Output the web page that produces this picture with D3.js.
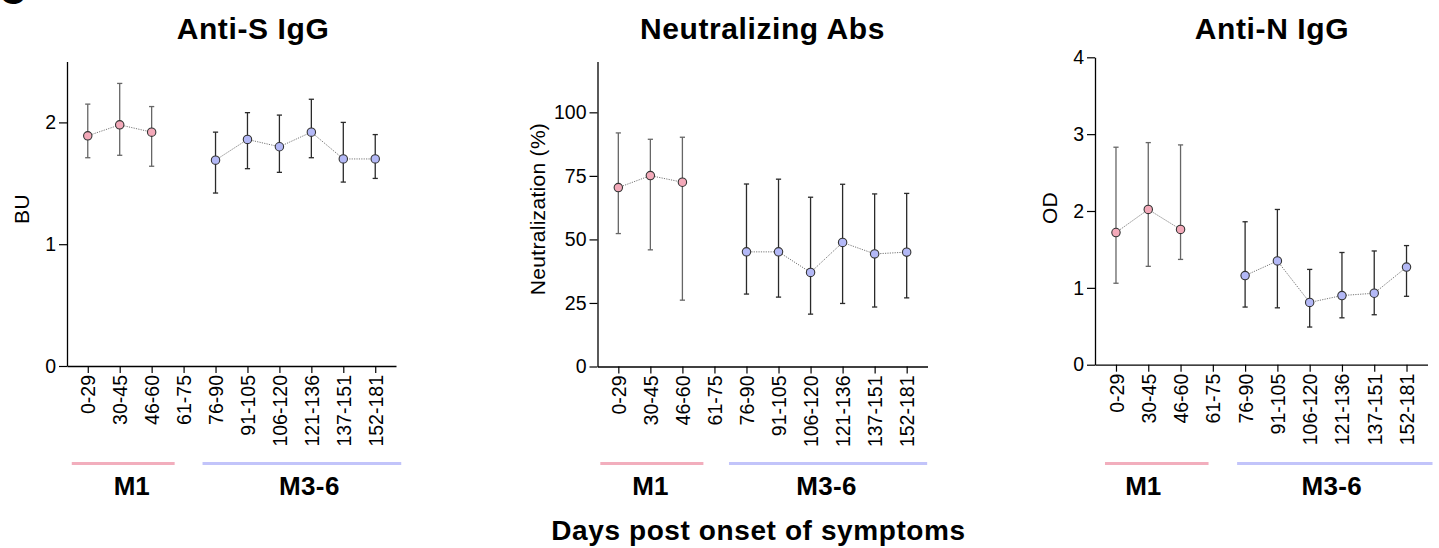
<!DOCTYPE html>
<html>
<head>
<meta charset="utf-8">
<script src="https://cdn.jsdelivr.net/npm/d3@7"></script>
<style>
  html, body { margin: 0; padding: 0; background: #fff; }
  svg { display: block; }
  text { font-family: "Liberation Sans", Arial, Helvetica, sans-serif; fill: #000; }
</style>
</head>
<body>
<svg id="chart" width="1439" height="548"></svg>
<script>
// ---------------- DATA ----------------
const categories = ["0-29","30-45","46-60","61-75","76-90","91-105","106-120","121-136","137-151","152-181"];
const groupNames = ["M1", "M3-6"];
const groupM1 = ["0-29","30-45","46-60"];
const groupM36 = ["76-90","91-105","106-120","121-136","137-151","152-181"];

const antiSMean = [1.89, 1.98, 1.92, null, 1.69, 1.86, 1.80, 1.92, 1.70, 1.70];
const antiSLow  = [1.71, 1.73, 1.64, null, 1.42, 1.62, 1.59, 1.71, 1.51, 1.54];
const antiSHigh = [2.15, 2.32, 2.13, null, 1.92, 2.08, 2.06, 2.19, 2.00, 1.90];
const antiSTicks = [0, 1, 2];

const neutMean = [70.4, 75.1, 72.5, null, 45.1, 45.1, 37.0, 48.8, 44.3, 45.0];
const neutLow  = [52.3, 45.9, 26.1, null, 28.5, 27.3, 20.6, 24.8, 23.4, 27.0];
const neutHigh = [91.9, 89.4, 90.2, null, 71.8, 73.7, 66.6, 71.7, 67.9, 68.1];
const neutTicks = [0, 25, 50, 75, 100];

const antiNMean = [1.72, 2.02, 1.76, null, 1.16, 1.35, 0.81, 0.90, 0.93, 1.27];
const antiNLow  = [1.06, 1.28, 1.37, null, 0.75, 0.74, 0.49, 0.61, 0.65, 0.89];
const antiNHigh = [2.83, 2.89, 2.86, null, 1.86, 2.02, 1.24, 1.46, 1.48, 1.55];
const antiNTicks = [0, 1, 2, 3, 4];

const panelTitles = ["Anti-S IgG", "Neutralizing Abs", "Anti-N IgG"];
const yLabels = ["BU", "Neutralization (%)", "OD"];
const xTitle = "Days post onset of symptoms";

// ---------------- STYLE / LAYOUT ----------------
const pinkFill = "#f3a9b9", blueFill = "#b3b8f6";
const pinkBar = "#f2aebd", blueBar = "#c2c4fa";
const FONT = "'Liberation Sans', Arial, Helvetica, sans-serif";

const panels = [
  { title: panelTitles[0], yLabel: yLabels[0], mean: antiSMean, low: antiSLow, high: antiSHigh, ticks: antiSTicks,
    domain: [0, 2.5], x0: 67, x1: 396, y0: 366, y1: 61.5, titleX: 253, yLabX: 21, yLabY: 209,
    m1: [-16, 23], m36: [-13, 26], labShift: [12, 14] },
  { title: panelTitles[1], yLabel: yLabels[1], mean: neutMean, low: neutLow, high: neutHigh, ticks: neutTicks,
    domain: [0, 120], x0: 597.5, x1: 927.5, y0: 366.5, y1: 61.5, titleX: 762.5, yLabX: 537, yLabY: 209,
    m1: [-18, 21], m36: [-17.5, 20.5], labShift: [0, 0] },
  { title: panelTitles[2], yLabel: yLabels[2], mean: antiNMean, low: antiNLow, high: antiNHigh, ticks: antiNTicks,
    domain: [0, 4], x0: 1095, x1: 1427.5, y0: 364.7, y1: 57.3, titleX: 1272, yLabX: 1049, yLabY: 208,
    m1: [-11, 28], m36: [-8, 26], labShift: [-5, 6] }
];

const svg = d3.select("#chart");

// partial panel letter at top-left (cut off in the source)
svg.append("text").attr("x", -1).attr("y", 4)
  .style("font-size", "37px").style("font-weight", "bold").text("C");

panels.forEach(p => {
  const g = svg.append("g");
  const x = d3.scalePoint().domain(categories).range([p.x0, p.x1]).padding(0.65);
  const y = d3.scaleLinear().domain(p.domain).range([p.y0, p.y1]);

  // title
  g.append("text").attr("x", p.titleX).attr("y", 38.5).attr("text-anchor", "middle")
    .style("font-size", "30px").style("font-weight", "bold").style("letter-spacing", "0.6px")
    .text(p.title);

  // y axis
  const ya = g.append("g").attr("transform", `translate(${p.x0},0)`)
    .call(d3.axisLeft(y).tickValues(p.ticks).tickSize(8).tickSizeOuter(0).tickPadding(3).tickFormat(d3.format("d")))
    .attr("font-size", 19.5).attr("font-family", FONT);
  ya.select(".domain").attr("stroke", "#000").attr("stroke-width", 1.3);
  ya.selectAll(".tick line").attr("stroke", "#000").attr("stroke-width", 1.2);
  ya.selectAll(".tick text").style("font-size", "19.5px").attr("fill", "#000");

  // x axis
  const xa = g.append("g").attr("transform", `translate(0,${p.y0})`)
    .call(d3.axisBottom(x).tickSize(7).tickSizeOuter(0))
    .attr("font-size", 19.5).attr("font-family", FONT);
  xa.select(".domain").attr("stroke", "#000").attr("stroke-width", 1.3);
  xa.selectAll(".tick line").attr("stroke", "#000").attr("stroke-width", 1.2);
  xa.selectAll(".tick text")
    .style("font-size", "19.5px")
    .attr("fill", "#000")
    .attr("text-anchor", "end")
    .attr("transform", "rotate(-90)")
    .attr("x", -9).attr("y", 0).attr("dy", "0.36em");

  // y label
  g.append("text").attr("transform", `translate(${p.yLabX},${p.yLabY}) rotate(-90)`)
    .attr("text-anchor", "middle").attr("dy", "0.36em")
    .style("font-size", "21px").style("letter-spacing", "0.3px").text(p.yLabel);

  // data records
  const recs = categories.map((c, i) => ({ c, m: p.mean[i], lo: p.low[i], hi: p.high[i],
    grp: groupM1.includes(c) ? 0 : (groupM36.includes(c) ? 1 : -1) }));

  // connecting dotted lines per group
  [0, 1].forEach(gi => {
    const pts = recs.filter(r => r.grp === gi && r.m != null);
    g.append("path").datum(pts)
      .attr("d", d3.line().x(r => x(r.c)).y(r => y(r.m)))
      .attr("fill", "none").attr("stroke", "#777").attr("stroke-width", 1)
      .attr("stroke-dasharray", "1.2,1.2");
  });

  // error bars
  const valid = recs.filter(r => r.m != null);
  const eb = g.append("g");
  valid.forEach(r => {
    const col = r.grp === 0 ? "#666" : "#2a2a2a";
    const cx = x(r.c);
    eb.append("line").attr("x1", cx).attr("x2", cx).attr("y1", y(r.lo)).attr("y2", y(r.hi))
      .attr("stroke", col).attr("stroke-width", 1.3);
    [r.lo, r.hi].forEach(v => {
      eb.append("line").attr("x1", cx - 2.6).attr("x2", cx + 2.6).attr("y1", y(v)).attr("y2", y(v))
        .attr("stroke", col).attr("stroke-width", 1.3);
    });
  });

  // points
  g.selectAll("circle.pt").data(valid).join("circle").attr("class", "pt")
    .attr("cx", r => x(r.c)).attr("cy", r => y(r.m)).attr("r", 4.2)
    .attr("fill", r => r.grp === 0 ? pinkFill : blueFill)
    .attr("stroke", "#333").attr("stroke-width", 1.1);

  // group bars and labels
  const barY = 463.5;
  const m1a = x(groupM1[0]) + p.m1[0], m1b = x(groupM1[groupM1.length - 1]) + p.m1[1];
  const m3a = x(groupM36[0]) + p.m36[0], m3b = x(groupM36[groupM36.length - 1]) + p.m36[1];
  g.append("line").attr("x1", m1a).attr("x2", m1b).attr("y1", barY).attr("y2", barY)
    .attr("stroke", pinkBar).attr("stroke-width", 3);
  g.append("line").attr("x1", m3a).attr("x2", m3b).attr("y1", barY).attr("y2", barY)
    .attr("stroke", blueBar).attr("stroke-width", 3);
  const m1c = x(groupM1[1]) + p.labShift[0];
  const m3c = (x("106-120") + x("121-136")) / 2 + p.labShift[1];
  g.append("text").attr("x", m1c).attr("y", 495).attr("text-anchor", "middle")
    .style("font-size", "26px").style("font-weight", "bold").text(groupNames[0]);
  g.append("text").attr("x", m3c).attr("y", 495).attr("text-anchor", "middle")
    .style("font-size", "26px").style("font-weight", "bold").style("letter-spacing", "0.4px").text(groupNames[1]);
});

// common x title
svg.append("text").attr("x", 758.5).attr("y", 540).attr("text-anchor", "middle")
  .style("font-size", "28px").style("font-weight", "bold").style("letter-spacing", "0.6px")
  .text(xTitle);
</script>
</body>
</html>
